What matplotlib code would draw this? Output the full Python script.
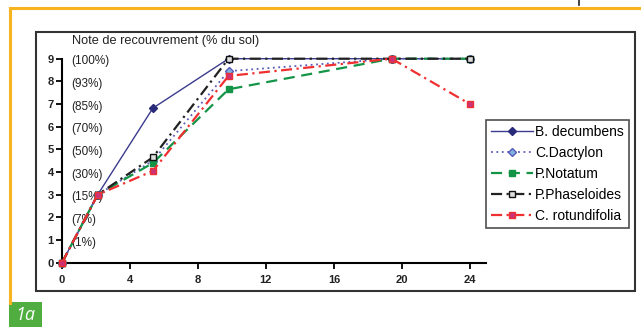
import matplotlib
matplotlib.use("Agg")
import matplotlib.pyplot as plt
from matplotlib.patches import Rectangle
from matplotlib.lines import Line2D

plt.rcParams['font.family'] = ['Liberation Sans', 'DejaVu Sans']

x_vals = [0, 2.1, 5.35, 9.8, 19.4, 24]
series_names = ["B. decumbens", "C.Dactylon", "P.Notatum", "P.Phaseloides", "C. rotundifolia"]
b_decumbens = [0, 3, 6.82, 9, 9, 9]
c_dactylon = [0, 3, 4.5, 8.45, 9, 9]
p_notatum = [0, 3, 4.4, 7.65, 9, 9]
p_phaseloides = [0, 3, 4.65, 9, 9, 9]
c_rotundifolia = [0, 3, 4.05, 8.24, 9, 7]
y_ticks = [0, 1, 2, 3, 4, 5, 6, 7, 8, 9]
pct_labels = ["(1%)", "(7%)", "(15%)", "(30%)", "(50%)", "(70%)", "(85%)", "(93%)", "(100%)"]
x_ticks = [0, 4, 8, 12, 16, 20, 24]
title = "Note de recouvrement (% du sol)"

W, H = 641, 327
fig = plt.figure(figsize=(W/100, H/100), dpi=100)

# decorative frame
fig.add_artist(Line2D([10/W, 1], [1-8/H, 1-8/H], color='#f7b320', lw=2.2, transform=fig.transFigure))
fig.add_artist(Line2D([10/W, 10/W], [1-8/H, 1-303/H], color='#f7b320', lw=2.2, transform=fig.transFigure))
fig.add_artist(Line2D([579/W, 579/W], [1, 1-5/H], color='#222222', lw=1.2, transform=fig.transFigure))
fig.add_artist(Rectangle((9/W, 0), 33/W, 25/H, facecolor='#4fae3f', edgecolor='none', transform=fig.transFigure))
fig.text(25/W, 12/H, "1a", color='white', fontsize=13, style='italic', ha='center', va='center',
         family=['Open Sans', 'DejaVu Sans'])
fig.add_artist(Rectangle((36/W, 1-291/H), (635-36)/W, (291-32)/H, facecolor='none',
                         edgecolor='#333333', lw=1.5, transform=fig.transFigure))

ax = fig.add_axes([62/W, 1-262.7/H, 424/W, 204/H])
ax.set_xlim(0, 24.95)
ax.set_ylim(0, 9)

styles = [
    dict(color='#3b3b8f', ls='-', lw=1.0, marker='D', ms=4, mfc='#2a2a7a', mec='#2a2a7a'),
    dict(color='#5a5ab8', ls=(0, (1, 2)), lw=1.3, marker='D', ms=4.5, mfc='#7fb2e0', mec='#5a5ab8'),
    dict(color='#149447', ls=(0, (5, 3)), lw=1.6, marker='s', ms=4.5, mfc='#149447', mec='#149447'),
    dict(color='#222222', ls=(0, (5, 2, 1, 2)), lw=1.6, marker='s', ms=5, mfc='#dddddd', mec='#111111'),
    dict(color='#f03030', ls=(0, (5, 2, 1, 2)), lw=1.6, marker='s', ms=5, mfc='#cc3377', mec='#f03030'),
]
all_series = [b_decumbens, c_dactylon, p_notatum, p_phaseloides, c_rotundifolia]
order = [0, 1, 2, 4, 3]
handles = [None]*5
for i in order:
    h, = ax.plot(x_vals, all_series[i], label=series_names[i], clip_on=False, zorder=3+i, **styles[i])
    handles[i] = h

for s in ['top', 'right']:
    ax.spines[s].set_visible(False)
for s in ['left', 'bottom']:
    ax.spines[s].set_linewidth(1.5)
ax.set_yticks(y_ticks)
ax.set_xticks(x_ticks)
ax.tick_params(axis='both', direction='out', length=4, width=1.3, labelsize=8)
ax.tick_params(axis='y', pad=2)
ax.tick_params(axis='x', pad=5)
for lab in ax.get_xticklabels() + ax.get_yticklabels():
    lab.set_fontweight('bold')
    lab.set_color('#222222')

for v, t in zip(y_ticks[1:], pct_labels):
    ax.text(0.55, v - 0.12, t, fontsize=8.5, va='center', ha='left', color='#222222', zorder=1)

fig.text(72/W, 1-41/H, title, fontsize=9.2, va='center', ha='left', color='#222222')

leg = ax.legend(handles=handles, loc='upper left', bbox_to_anchor=(486/W, 1-120/H),
                bbox_transform=fig.transFigure, fontsize=10, frameon=True, fancybox=False,
                edgecolor='#222222', handlelength=3.0, handletextpad=0.2, labelspacing=0.5,
                borderpad=0.35, borderaxespad=0)
leg.get_frame().set_linewidth(1.2)

fig.savefig("out.png", dpi=100)
